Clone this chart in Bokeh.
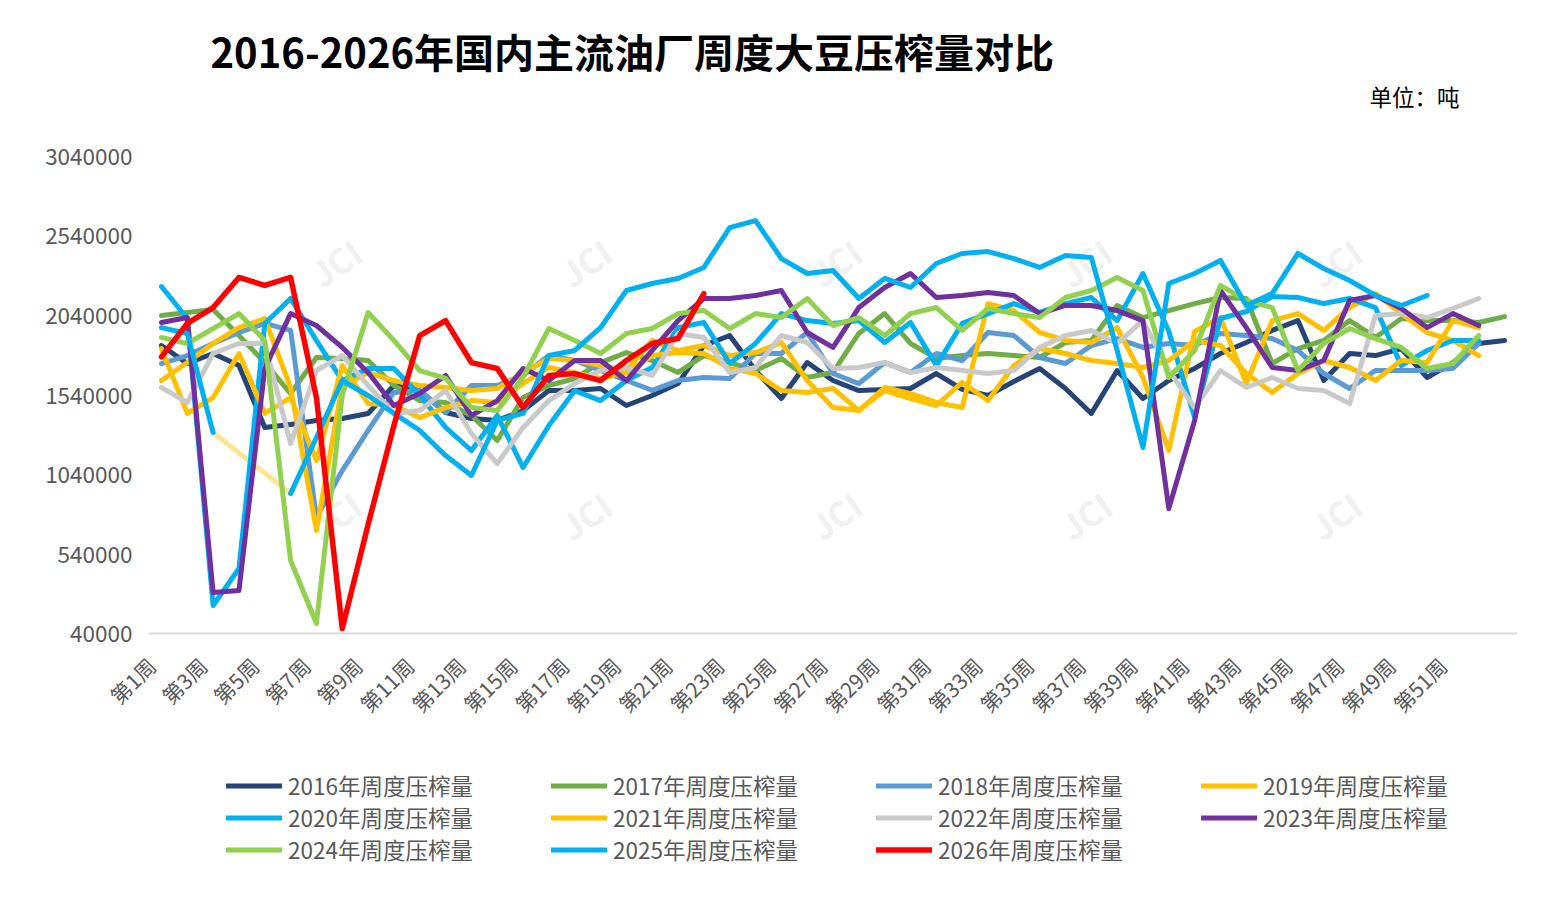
from math import pi
from bokeh.plotting import figure
from bokeh.models import Range1d, FixedTicker, Legend, LegendItem, Label, PrintfTickFormatter
from bokeh.embed import file_html
from bokeh.resources import INLINE

nan = float("nan")

weeks = list(range(1, 54))
tick_weeks = list(range(1, 52, 2))
y_ticks = [40000, 540000, 1040000, 1540000, 2040000, 2540000, 3040000]

s2016 = [1851000, 1738000, 1801000, 1725000, 1336000, 1354000, 1380000, 1392000, 1424000, 1600000,
         1568000, 1430000, 1392000, 1380000, 1442000, 1568000, 1568000, 1581000, 1474000, 1537000,
         1612000, 1851000, 1914000, 1694000, 1518000, 1744000, 1631000, 1568000, 1575000, 1581000,
         1675000, 1575000, 1537000, 1625000, 1707000, 1581000, 1424000, 1694000, 1518000, 1631000,
         1707000, 1801000, 1870000, 1946000, 2008000, 1631000, 1801000, 1788000, 1832000, 1650000,
         1744000, 1864000, 1883000]
s2017 = [2040000, 2059000, 2078000, 1914000, 1744000, 1549000, 1776000, 1770000, 1757000, 1600000,
         1505000, 1493000, 1411000, 1254000, 1524000, 1600000, 1644000, 1744000, 1807000, 1757000,
         1682000, 1788000, 1744000, 1694000, 1770000, 1650000, 1682000, 1927000, 2052000, 1864000,
         1770000, 1788000, 1801000, 1788000, 1776000, 1870000, 1883000, 2103000, 2027000, 2071000,
         2115000, 2153000, 2147000, 1738000, 1832000, 1883000, 2008000, 1902000, 2021000, 2008000,
         2008000, 1996000, 2033000]
s2018 = [1738000, 1788000, 1864000, 1933000, 1990000, 1946000, 770000, 1065000, 1317000, 1556000,
         1569000, 1430000, 1600000, 1600000, 1663000, 1788000, 1757000, 1694000, 1631000, 1569000,
         1631000, 1650000, 1644000, 1801000, 1801000, 1933000, 1675000, 1612000, 1744000, 1682000,
         1801000, 1757000, 1933000, 1914000, 1776000, 1738000, 1851000, 1895000, 1839000, 1864000,
         1851000, 1927000, 1914000, 1895000, 1820000, 1675000, 1581000, 1694000, 1694000, 1694000,
         1707000, 1864000]
s2019 = [1631000, 1744000, 1864000, 1964000, 2021000, 1587000, 688000, 1600000, 1681000, 1631000,
         1600000, 1587000, 1568000, 1581000, 1675000, 1770000, 1757000, 1725000, 1694000, 1883000,
         1820000, 1851000, 1788000, 1807000, 1870000, 1631000, 1461000, 1442000, 1587000, 1549000,
         1493000, 1461000, 2115000, 2071000, 1933000, 1883000, 1870000, 1964000, 1650000, 1191000,
         1939000, 2027000, 1612000, 2008000, 2052000, 1946000, 2090000, 2178000, 2052000, 1933000,
         1883000, 1788000]
s2020 = [2222000, 2021000, 216000, 449000, 1990000, 2147000, 1883000, 1631000, 1707000, 1707000,
         1537000, 1336000, 1191000, 1411000, 1084000, 1348000, 1568000, 1505000, 1631000, 1713000,
         1964000, 1996000, 1738000, 1864000, 2052000, 2008000, 1990000, 2008000, 1870000, 1996000,
         1725000, 1990000, 2052000, 2115000, 2059000, 2115000, 2153000, 2008000, 2304000, 1939000,
         1398000, 2021000, 2065000, 2159000, 2153000, 2115000, 2147000, 2090000, 1725000, 1820000,
         1883000, 1883000]
s2021 = [1832000, 1424000, 1524000, 1801000, 1424000, 1524000, 1128000, 1725000, 1486000, 1474000,
         1398000, 1461000, 1505000, 1493000, 1612000, 1713000, 1681000, 1644000, 1681000, 1788000,
         1807000, 1801000, 1707000, 1675000, 1568000, 1556000, 1581000, 1442000, 1568000, 1518000,
         1474000, 1619000, 1505000, 1725000, 1832000, 1801000, 1757000, 1738000, 1713000, 1757000,
         1883000, 1851000, 1675000, 1556000, 1675000, 1757000, 1713000, 1631000, 1757000, 1744000,
         2008000, 1964000]
s2022 = [1587000, 1493000, 1801000, 1864000, 1864000, 1235000, 1694000, 1788000, 1600000, 1424000,
         1442000, 1568000, 1298000, 1109000, 1336000, 1505000, 1612000, 1694000, 1713000, 1663000,
         1927000, 1902000, 1681000, 1713000, 1914000, 1870000, 1707000, 1713000, 1744000, 1681000,
         1713000, 1694000, 1675000, 1694000, 1839000, 1914000, 1946000, 1864000, 2008000, 1694000,
         1461000, 1694000, 1587000, 1650000, 1581000, 1568000, 1486000, 2040000, 2052000, 2027000,
         2084000, 2147000]
s2023 = [1996000, 2027000, 298000, 310000, 1707000, 2052000, 1977000, 1839000, 1681000, 1474000,
         1549000, 1663000, 1411000, 1505000, 1707000, 1631000, 1757000, 1757000, 1631000, 1820000,
         2008000, 2147000, 2147000, 2166000, 2197000, 1933000, 1839000, 2090000, 2216000, 2304000,
         2153000, 2166000, 2184000, 2166000, 2052000, 2103000, 2103000, 2071000, 2008000, 826000,
         1380000, 2197000, 1964000, 1713000, 1694000, 1757000, 2134000, 2166000, 2084000, 1964000,
         2052000, 1977000]
s2024 = [1902000, 1864000, 1958000, 2052000, 1883000, 499000, 103000, 1537000, 2059000, 1883000,
         1694000, 1644000, 1461000, 1442000, 1650000, 1958000, 1883000, 1801000, 1927000, 1958000,
         2052000, 2071000, 1958000, 2052000, 2027000, 2147000, 1977000, 2027000, 1914000, 2052000,
         2090000, 1946000, 2084000, 2052000, 2027000, 2153000, 2197000, 2279000, 2197000, 1650000,
         1820000, 2229000, 2134000, 2090000, 1694000, 1864000, 1958000, 1895000, 1839000, 1707000,
         1738000, 1914000]
s2025 = [1964000, 1927000, 1304000, nan, nan, 920000, 1273000, 1631000, 1537000, 1424000,
         1317000, 1159000, 1034000, 1380000, 1424000, 1788000, 1820000, 1964000, 2197000, 2241000,
         2273000, 2342000, 2593000, 2637000, 2398000, 2304000, 2323000, 2147000, 2273000, 2216000,
         2367000, 2430000, 2442000, 2398000, 2342000, 2417000, 2405000, 1820000, 1210000, 2241000,
         2304000, 2386000, 2103000, 2178000, 2430000, 2335000, 2260000, 2166000, 2103000, 2166000]
s2026 = [1780000, 1990000, 2090000, 2279000, 2229000, 2279000, 1524000, 71000, 725000, 1348000,
         1914000, 2008000, 1744000, 1707000, 1461000, 1663000, 1675000, 1631000, 1757000, 1864000,
         1895000, 2178000]

series = [
    ("2016年周度压榨量", s2016, "#264478"),
    ("2017年周度压榨量", s2017, "#70AD47"),
    ("2018年周度压榨量", s2018, "#5B9BD5"),
    ("2019年周度压榨量", s2019, "#FFC000"),
    ("2020年周度压榨量", s2020, "#00B0F0"),
    ("2021年周度压榨量", s2021, "#FFC000"),
    ("2022年周度压榨量", s2022, "#C9C9C9"),
    ("2023年周度压榨量", s2023, "#7030A0"),
    ("2024年周度压榨量", s2024, "#92D050"),
    ("2025年周度压榨量", s2025, "#00B0F0"),
    ("2026年周度压榨量", s2026, "#FF0000"),
]

FONT = "Noto Sans CJK SC"
GREY = "#595959"

# The frame fills the canvas so title, legend and the rotated week labels sit inside it;
# both axes are pinned (x at 40000, y at week 0.5) and the y ticks stop at 3040000.
p = figure(width=1546, height=897, output_backend="svg", toolbar_location=None,
           x_range=Range1d(-4.07, 53.5), y_range=Range1d(-1576000, 3958000),
           min_border_left=30, min_border_right=29, min_border_top=10, min_border_bottom=7)
p.outline_line_color = None
p.grid.visible = False

# faint JCI watermarks behind the lines
for wx in (305, 555, 805, 1055, 1305):
    for wy in (628, 375):
        p.add_layout(Label(x=wx, y=wy, x_units="screen", y_units="screen", text="JCI",
                           angle=0.6, text_align="center", text_baseline="middle",
                           text_font=FONT, text_font_size="34px", text_font_style="bold",
                           text_color="#E3E3E3", text_alpha=0.55, level="underlay"))

# faded link across the 2025 holiday gap
p.line([weeks[2], weeks[5]], [s2025[2], s2025[5]], line_width=5, color="#FFD966", alpha=0.7)

items = []
for name, data, color in series:
    r = p.line(weeks[:len(data)], data, line_width=5.5 if color == "#FF0000" else 5,
               color=color, line_join="round", line_cap="round")
    items.append(LegendItem(label=name, renderers=[r]))

legend = Legend(items=items, orientation="horizontal", ncols=4, location=(196, 25),
                glyph_width=56, glyph_height=25, label_height=25, label_width=263,
                label_standoff=6, spacing=0, padding=0, margin=0,
                border_line_color=None, background_fill_alpha=0,
                label_text_font=FONT, label_text_font_size="22.5px", label_text_color=GREY)
p.add_layout(legend, "center")

# week labels sit a little left of their week, as in the source chart
label_pos = [round(w - 0.39, 2) for w in tick_weeks]
p.xaxis.fixed_location = 40000
p.xaxis.bounds = (0.5, 53.5)
p.xaxis.ticker = FixedTicker(ticks=label_pos)
p.xaxis.major_label_overrides = {t: f"第{w}周" for t, w in zip(label_pos, tick_weeks)}
p.xaxis.major_label_orientation = pi / 4
p.xaxis.major_tick_line_color = None
p.xaxis.minor_tick_line_color = None
p.xaxis.major_tick_out = 0
p.xaxis.axis_line_color = "#D9D9D9"
p.xaxis.axis_line_width = 2
p.xaxis.major_label_text_font = FONT
p.xaxis.major_label_text_font_size = "21px"
p.xaxis.major_label_text_color = GREY
p.xaxis.major_label_standoff = 28

p.yaxis.fixed_location = 0.5
p.yaxis.ticker = FixedTicker(ticks=y_ticks)
p.yaxis.formatter = PrintfTickFormatter(format="%d")
p.yaxis.axis_line_color = None
p.yaxis.major_tick_line_color = None
p.yaxis.minor_tick_line_color = None
p.yaxis.major_tick_out = 0
p.yaxis.major_label_standoff = 16
p.yaxis.major_label_text_font = FONT
p.yaxis.major_label_text_font_size = "22.5px"
p.yaxis.major_label_text_color = GREY

p.add_layout(Label(x=180, y=840, x_units="screen", y_units="screen",
                   text="2016-2026年国内主流油厂周度大豆压榨量对比",
                   text_font=FONT, text_font_size="40px", text_font_style="bold",
                   text_color="#000000", text_baseline="middle"))
p.add_layout(Label(x=1339, y=795, x_units="screen", y_units="screen", text="单位：吨",
                   text_font=FONT, text_font_size="22.5px", text_color="#000000",
                   text_baseline="middle"))

open("out.html", "w").write(file_html(p, INLINE))
